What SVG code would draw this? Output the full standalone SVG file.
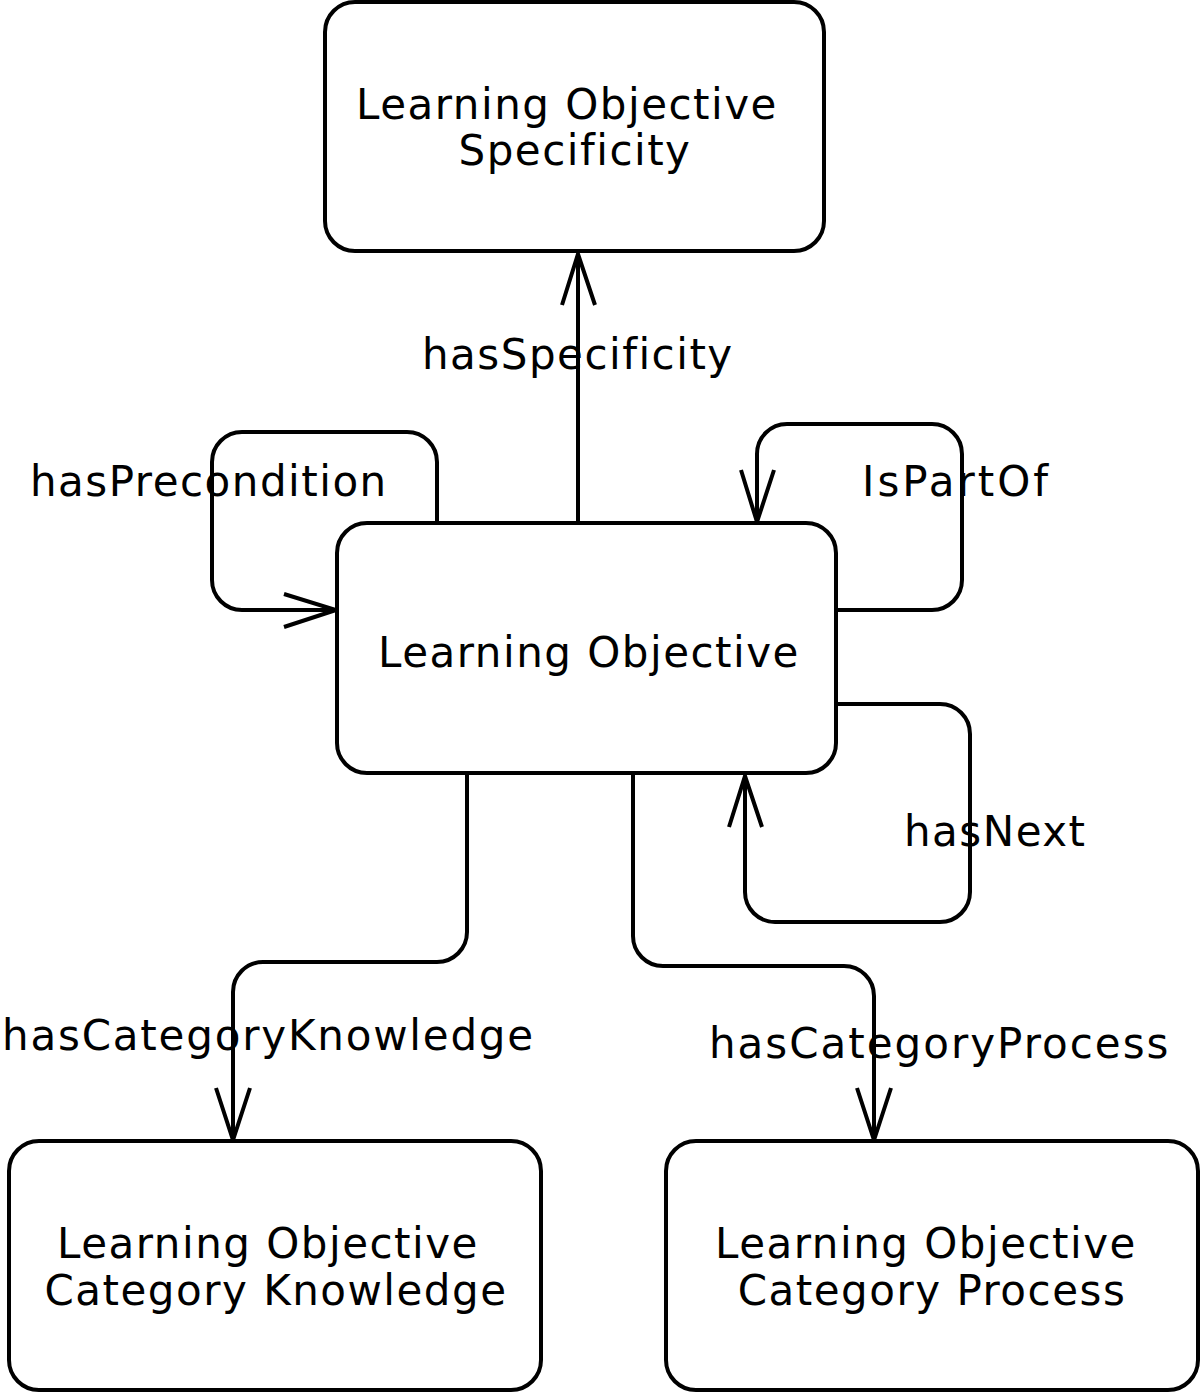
<svg xmlns="http://www.w3.org/2000/svg" width="1201" height="1394" viewBox="0 0 1201 1394">
<style>
.box{fill:#fff;stroke:#000;stroke-width:4}
.edge{fill:none;stroke:#000;stroke-width:4;stroke-linejoin:round}
.head{fill:none;stroke:#000;stroke-width:4;stroke-linejoin:miter}
text{font-family:"DejaVu Sans","Liberation Sans",sans-serif;font-size:42px;letter-spacing:1.5px;fill:#000}
.c{text-anchor:middle}
</style>
<rect width="1201" height="1394" fill="#fff"/>
<g id="connectors">
  <g id="e-hasSpecificity">
    <path class="edge" d="M578,523 V254"/>
    <path class="head" d="M562,305 L578,254 L595,305"/>
    <text x="422" y="369">hasSpecificity</text>
  </g>
  <g id="e-hasPrecondition">
    <path class="edge" d="M437,523 V462 A30,30 0 0 0 407,432 H242 A30,30 0 0 0 212,462 V580 A30,30 0 0 0 242,610 H336"/>
    <path class="head" d="M284,594 L336,610 L284,627"/>
    <text x="30" y="496">hasPrecondition</text>
  </g>
  <g id="e-IsPartOf">
    <path class="edge" d="M838,610 H932 A30,30 0 0 0 962,580 V454 A30,30 0 0 0 932,424 H787 A30,30 0 0 0 757,454 V522"/>
    <path class="head" d="M741,470 L757,522 L774,470"/>
    <text x="862" y="496" style="letter-spacing:3px">IsPartOf</text>
  </g>
  <g id="e-hasNext">
    <path class="edge" d="M838,704 H940 A30,30 0 0 1 970,734 V892 A30,30 0 0 1 940,922 H775 A30,30 0 0 1 745,892 V776"/>
    <path class="head" d="M729,827 L745,776 L762,827"/>
    <text x="904" y="846">hasNext</text>
  </g>
  <g id="e-hasCategoryKnowledge">
    <path class="edge" d="M467,773 V932 A30,30 0 0 1 437,962 H263 A30,30 0 0 0 233,992 V1140"/>
    <path class="head" d="M216,1088 L233,1140 L250,1088"/>
    <text x="2" y="1050" style="letter-spacing:1.8px">hasCategoryKnowledge</text>
  </g>
  <g id="e-hasCategoryProcess">
    <path class="edge" d="M633,773 V936 A30,30 0 0 0 663,966 H844 A30,30 0 0 1 874,996 V1140"/>
    <path class="head" d="M857,1088 L874,1140 L891,1088"/>
    <text x="709" y="1058" style="letter-spacing:2px">hasCategoryProcess</text>
  </g>
</g>
<g id="n-specificity">
  <rect class="box" x="325" y="2" width="499" height="249" rx="30"/>
  <text class="c" x="567" y="119">Learning Objective</text>
  <text class="c" x="575" y="165">Specificity</text>
</g>
<g id="n-objective">
  <rect class="box" x="337" y="523" width="499" height="250" rx="30"/>
  <text class="c" x="589" y="667">Learning Objective</text>
</g>
<g id="n-knowledge">
  <rect class="box" x="9" y="1141" width="532" height="249" rx="30"/>
  <text class="c" x="268" y="1258">Learning Objective</text>
  <text class="c" x="276" y="1305">Category Knowledge</text>
</g>
<g id="n-process">
  <rect class="box" x="666" y="1141" width="532" height="249" rx="30"/>
  <text class="c" x="926" y="1258">Learning Objective</text>
  <text class="c" x="932" y="1305">Category Process</text>
</g>
</svg>
